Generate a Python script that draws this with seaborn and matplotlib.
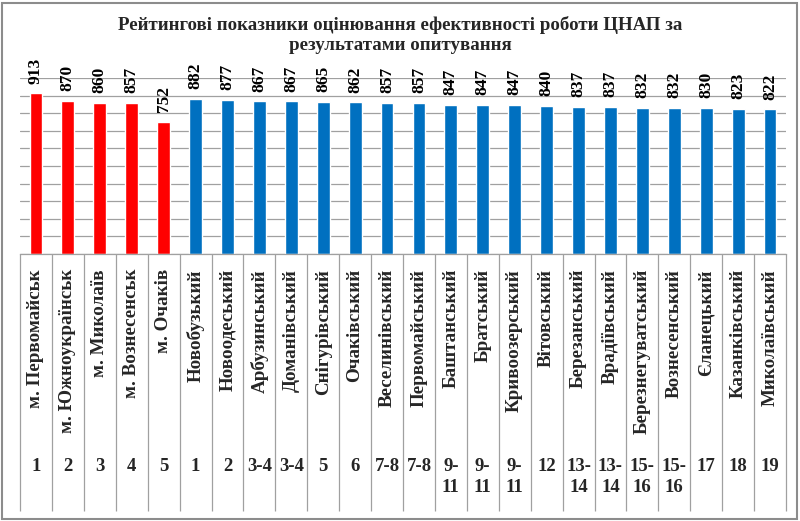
import matplotlib
matplotlib.use("Agg")
import matplotlib.pyplot as plt
import matplotlib.transforms as mtransforms
from matplotlib.patches import Rectangle
import seaborn as sns
import pandas as pd

categories = ["м. Первомайськ", "м. Южноукраїнськ", "м. Миколаїв", "м. Вознесенськ", "м. Очаків",
              "Новобузький", "Новоодеський", "Арбузинський", "Доманівський", "Снігурівський",
              "Очаківський", "Веселинівський", "Первомайський", "Баштанський", "Братський",
              "Кривоозерський", "Вітовський", "Березанський", "Врадіївський", "Березнегуватський",
              "Вознесенський", "Єланецький", "Казанківський", "Миколаївський"]
values = [913, 870, 860, 857, 752,
          882, 877, 867, 867, 865, 862, 857, 857, 847, 847, 847, 840, 837, 837, 832, 832, 830, 823, 822]
ranks = ["1", "2", "3", "4", "5",
         "1", "2", "3-4", "3-4", "5", "6", "7-8", "7-8", "9-\n11", "9-\n11", "9-\n11", "12",
         "13-\n14", "13-\n14", "15-\n16", "15-\n16", "17", "18", "19"]
groups = ["city"] * 5 + ["district"] * 19
title = "Рейтингові показники оцінювання ефективності роботи ЦНАП за\nрезультатами опитування"

df = pd.DataFrame({"cat": categories, "val": values, "grp": groups})

sns.set_theme(style="white")
plt.rcParams["font.family"] = ["Liberation Serif", "DejaVu Serif"]

W, H = 800, 521
fig = plt.figure(figsize=(W / 100, H / 100), dpi=100)
x0, x1, ytop, ybot = 20, 786, 78, 254
ax = fig.add_axes([x0 / W, 1 - ybot / H, (x1 - x0) / W, (ybot - ytop) / H])

sns.barplot(data=df, x="cat", y="val", hue="grp",
            palette={"city": "#FF0000", "district": "#0070C0"},
            width=0.4, dodge=False, legend=False, ax=ax, saturation=1)

ax.set_ylim(0, 1000)
ax.set_xlim(-0.5, len(categories) - 0.5)
ax.set_yticks(range(0, 1001, 100))
ax.yaxis.grid(True, color="#A0A0A0", linewidth=0.9)
ax.set_axisbelow(True)
ax.set_xticks([])
ax.set_yticklabels([])
ax.tick_params(left=False, bottom=False)
ax.set_xlabel("")
ax.set_ylabel("")
for s in ["left", "right", "top"]:
    ax.spines[s].set_visible(False)
ax.spines["bottom"].set_color("#A0A0A0")
ax.spines["bottom"].set_linewidth(0.9)

# value labels
for i, v in enumerate(values):
    ax.annotate(str(v), (i, v), xytext=(0, 7), textcoords="offset points",
                rotation=90, ha="center", va="bottom", fontsize=12.5, fontweight="bold",
                color="black", annotation_clip=False)

# data-table-like area below
trans = mtransforms.blended_transform_factory(ax.transData, ax.transAxes)
axh = ybot - ytop
table_bottom = -(511 - ybot) / axh
bounds = [i - 0.5 for i in range(len(categories) + 1)]
ax.vlines(bounds, table_bottom, 0, transform=trans, colors="#A0A0A0",
          linewidth=0.9, clip_on=False)

for i, (c, r) in enumerate(zip(categories, ranks)):
    ax.text(i, -(269 - ybot) / axh, c, transform=trans, rotation=90,
            ha="center", va="top", fontsize=13.7, fontweight="bold")
    ax.text(i, -(458 - ybot) / axh, r, transform=trans, ha="center", va="top",
            fontsize=13.5, fontweight="bold", linespacing=1.3)

fig.text(0.5, 1 - 16 / H, title, ha="center", va="top", fontsize=13.6,
         fontweight="bold", linespacing=1.25)

fig.patches.append(Rectangle((2 / W, 2 / H), 1 - 5 / W, 1 - 5 / H,
                             transform=fig.transFigure, fill=False,
                             edgecolor="#8C8C8C", linewidth=1.5))

fig.savefig("out.png", dpi=100)
